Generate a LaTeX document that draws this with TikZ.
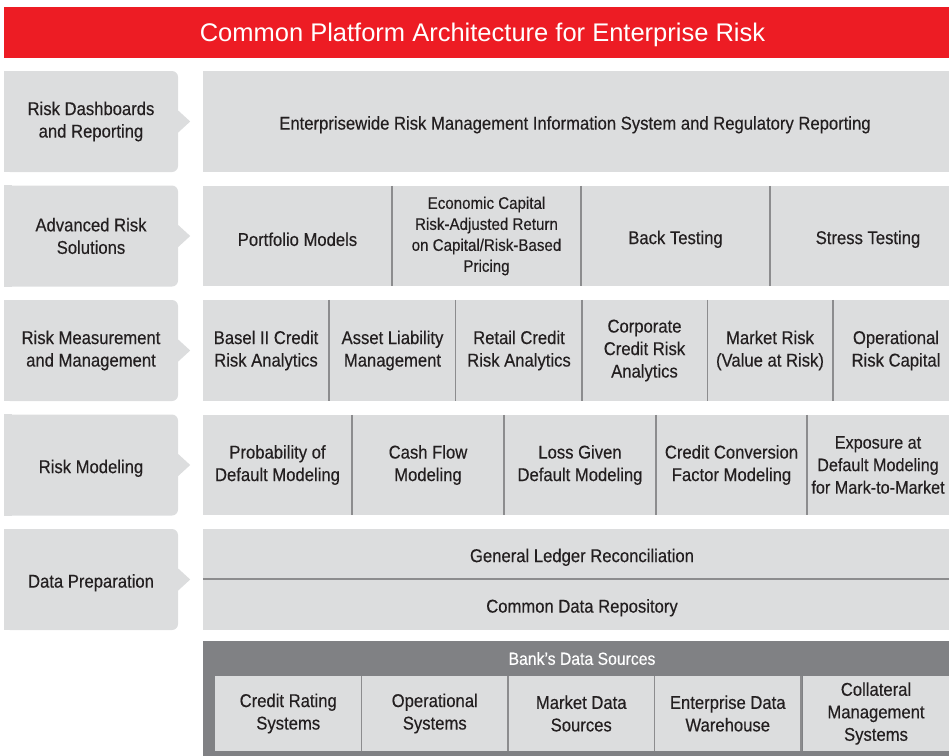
\documentclass[tikz,border=0pt]{standalone}
\usepackage{fontspec}
\setmainfont{Liberation Sans}[FakeStretch=0.9, FakeBold=0.35]
\newfontfamily\titlefont{Liberation Sans}
\definecolor{brandred}{HTML}{ED1C24}
\definecolor{boxgray}{HTML}{DCDDDE}
\definecolor{darkgray}{HTML}{808184}
\definecolor{linegray}{HTML}{8C8C8E}
\definecolor{inkgray}{HTML}{231F20}

\begin{document}
\begin{tikzpicture}[
    x=1pt, y=-1pt,
    every node/.style={color=inkgray, align=center, inner sep=0pt,
        font=\fontsize{18.5}{22.5}\selectfont},
    strut/.style={execute at begin node={\rule{0pt}{20pt}}},
    side box/.style={strut, fill=boxgray, rounded corners=6pt,
        minimum width=174pt, minimum height=101pt},
    cell/.style={strut, fill=boxgray, minimum height=101pt},
    divider/.style={draw=linegray, line width=1.5pt},
    source/.style={strut, fill=boxgray, minimum height=75pt, minimum width=146.5pt}
    ]
    \useasboundingbox (0,0) rectangle (949,755);
    \clip (0,0) rectangle (949,755);
    % title
    \node[fill=brandred, minimum width=957pt, minimum height=51pt,
        font=\titlefont\fontsize{25.5}{30}\selectfont, text=white,
        execute at begin node={\rule{0pt}{24pt}}]
        (title) at (482.5,32.5) {Common Platform Architecture for Enterprise Risk};
    % left column
    \node[side box] (dash) at (91,121.5) {Risk Dashboards\\and Reporting};
    \node[side box] (adv) at (91,236) {Advanced Risk\\Solutions};
    \node[side box] (meas) at (91,350.5) {Risk Measurement\\and Management};
    \node[side box] (model) at (91,465) {Risk Modeling};
    \node[side box] (prep) at (91,579.5) {Data Preparation};
    % square left corners and chevrons
    \foreach \s in {dash, adv, meas, model, prep} {
        \fill[boxgray] (\s.north west) rectangle ([xshift=8pt]\s.south west);
        \fill[boxgray] (\s.east) ++(0,-11) -- ++(12,11) -- ++(-12,11) -- cycle;
    }
    % row 1
    \node[cell, minimum width=758pt] (mis) at (582,121.5)
        {Enterprisewide Risk Management Information System and Regulatory Reporting\hspace*{14pt}};
    % row 2
    \node[cell, minimum width=189pt, minimum height=100pt] (port) at (297.5,236) {Portfolio Models};
    \node[cell, minimum width=189pt, minimum height=100pt,
        font=\fontsize{16.8}{21}\selectfont] (ecap) at (486.5,236)
        {Economic Capital\\Risk-Adjusted Return\\on Capital/Risk-Based\\Pricing};
    \node[cell, minimum width=189pt, minimum height=100pt] (back) at (675.5,236) {Back Testing};
    \node[cell, minimum width=196pt, minimum height=100pt] (stress) at (868,236) {Stress Testing};
    \draw[divider] (port.north east) -- (port.south east);
    \draw[divider] (ecap.north east) -- (ecap.south east);
    \draw[divider] (back.north east) -- (back.south east);
    % row 3
    \node[cell, minimum width=126pt] (basel) at (266,350.5) {Basel II Credit\\Risk Analytics};
    \node[cell, minimum width=126pt] (alm) at (392.5,350.5) {Asset Liability\\Management};
    \node[cell, minimum width=126pt] (retail) at (519,350.5) {Retail Credit\\Risk Analytics};
    \node[cell, minimum width=126pt] (corp) at (644.5,350.5) {Corporate\\Credit Risk\\Analytics};
    \node[cell, minimum width=126pt] (mkt) at (770,350.5) {Market Risk\\(Value at Risk)};
    \node[cell, minimum width=126pt] (oprisk) at (896,350.5) {Operational\\Risk Capital};
    \draw[divider] (basel.north east) -- (basel.south east);
    \draw[divider] (alm.north east) -- (alm.south east);
    \draw[divider] (retail.north east) -- (retail.south east);
    \draw[divider] (corp.north east) -- (corp.south east);
    \draw[divider] (mkt.north east) -- (mkt.south east);
    % row 4
    \node[cell, minimum width=149pt, minimum height=100pt] (pd) at (277.5,465) {Probability of\\Default Modeling};
    \node[cell, minimum width=152pt, minimum height=100pt] (cash) at (428,465) {Cash Flow\\Modeling};
    \node[cell, minimum width=152pt, minimum height=100pt] (lgd) at (580,465) {Loss Given\\Default Modeling};
    \node[cell, minimum width=151pt, minimum height=100pt] (ccf) at (731.5,465) {Credit Conversion\\Factor Modeling};
    \node[cell, minimum width=142pt, minimum height=100pt,
        font=\fontsize{18}{22.5}\selectfont] (ead) at (878,465)
        {Exposure at\\Default Modeling\\for Mark-to-Market};
    \draw[divider] (pd.north east) -- (pd.south east);
    \draw[divider] (cash.north east) -- (cash.south east);
    \draw[divider] (lgd.north east) -- (lgd.south east);
    \draw[divider] (ccf.north east) -- (ccf.south east);
    % row 5
    \node[cell, minimum width=758pt, minimum height=50pt] (ledger) at (582,554) {General Ledger Reconciliation};
    \node[cell, minimum width=758pt, minimum height=51pt] (repo) at (582,604.5) {Common Data Repository};
    \draw[divider] (ledger.south west) -- (ledger.south east);
    % bank's data sources
    \node[fill=darkgray, minimum width=749pt, minimum height=115pt] (bank) at (577.5,698.5) {};
    \node[text=white, font=\fontsize{17.5}{21}\selectfont] (banktitle) at (582,658.5) {Bank’s Data Sources};
    \node[source] (crs) at (288.25,713.5) {Credit Rating\\Systems};
    \node[source] (ops) at (434.75,713.5) {Operational\\Systems};
    \node[source] (mds) at (581.25,713.5) {Market Data\\Sources};
    \node[source] (edw) at (727.75,713.5) {Enterprise Data\\Warehouse};
    \node[source] (coll) at (876,713.5) {Collateral\\Management\\Systems};
    \draw[divider] (crs.north east) -- (crs.south east);
    \draw[divider] (ops.north east) -- (ops.south east);
    \draw[divider] (mds.north east) -- (mds.south east);
    \draw[divider] (edw.north east) -- (edw.south east);
\end{tikzpicture}
\end{document}
